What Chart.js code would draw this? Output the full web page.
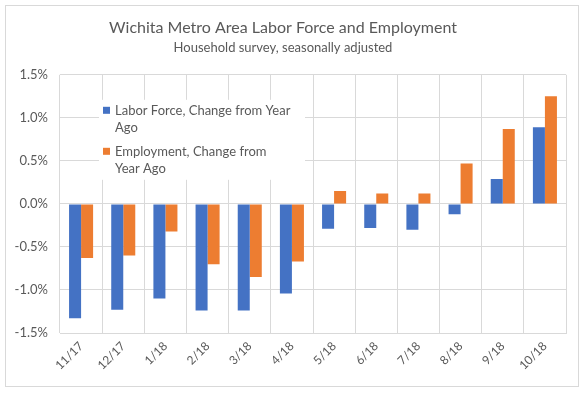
<!DOCTYPE html>
<html>
<head>
<meta charset="utf-8">
<script src="https://cdn.jsdelivr.net/npm/chart.js@4"></script>
<style>
  html, body { margin: 0; padding: 0; background: #fff; }
  #wrap { position: relative; width: 586px; height: 394px; }
  #frame { position: absolute; left: 5px; top: 5px; width: 574px; height: 382px; border: 1px solid #d9d9d9; box-sizing: border-box; }
  canvas { position: absolute; left: 0; top: 0; }
</style>
</head>
<body>
<div id="wrap">
  <div id="frame"></div>
  <canvas id="grafiek" width="586" height="394"></canvas>
</div>
<script>
// data
const months = ['11/17', '12/17', '1/18', '2/18', '3/18', '4/18', '5/18', '6/18', '7/18', '8/18', '9/18', '10/18'];
const laborForce = [-1.33, -1.23, -1.10, -1.24, -1.24, -1.04, -0.29, -0.28, -0.30, -0.12, 0.29, 0.89];
const employment = [-0.63, -0.60, -0.32, -0.70, -0.85, -0.67, 0.15, 0.12, 0.12, 0.47, 0.87, 1.25];
const yTicks = [-1.5, -1.0, -0.5, 0.0, 0.5, 1.0, 1.5];
// legend text broken the same way as the original
const legendLines = [
  ['Labor Force, Change from Year', 'Ago'],
  ['Employment, Change from', 'Year Ago']
];

const grijs = '#595959';
const lijn = '#d9d9d9';
const font = 'Lato';

// legend drawn inside the plot area, like the Excel original
const legendInPlot = {
  id: 'legendInPlot',
  afterDatasetsDraw(chart) {
    const ctx = chart.ctx;
    const area = chart.chartArea;
    const x0 = area.left + 43;
    const y0 = area.top + 25;
    ctx.save();
    ctx.fillStyle = '#fff';
    ctx.fillRect(x0 - 4, y0, 206, 80);
    ctx.font = '13px ' + font;
    ctx.textBaseline = 'middle';
    let y = y0 + 11;
    chart.data.datasets.forEach(function (ds, d) {
      const lines = legendLines[d];
      ctx.fillStyle = ds.backgroundColor;
      ctx.fillRect(x0, y - 4, 7, 7);
      ctx.fillStyle = grijs;
      lines.forEach(function (l, i) {
        ctx.fillText(l, x0 + 12, y + i * 17);
      });
      y += lines.length * 17 + 7;
    });
    ctx.restore();
  }
};

const ctx = document.getElementById('grafiek').getContext('2d');
const chart = new Chart(ctx, {
  type: 'bar',
  data: {
    labels: months,
    datasets: [{
      label: 'Labor Force, Change from Year Ago',
      data: laborForce,
      backgroundColor: '#4472C4'
    }, {
      label: 'Employment, Change from Year Ago',
      data: employment,
      backgroundColor: '#ED7D31'
    }]
  },
  options: {
    responsive: false,
    animation: false,
    categoryPercentage: 0.57,
    barPercentage: 1.0,
    layout: { padding: { left: 0, right: 20, top: 0, bottom: 6 } },
    plugins: {
      legend: { display: false },
      tooltip: { enabled: false },
      title: {
        display: true,
        text: 'Wichita Metro Area Labor Force and Employment',
        color: grijs,
        font: { family: font, size: 16, weight: 'normal' },
        padding: { top: 18, bottom: 3 }
      },
      subtitle: {
        display: true,
        text: 'Household survey, seasonally adjusted',
        color: grijs,
        font: { family: font, size: 13, weight: 'normal' },
        padding: { top: 0, bottom: 19 }
      }
    },
    scales: {
      x: {
        grid: { color: lijn, offset: true, drawTicks: false },
        border: { color: lijn },
        ticks: {
          color: grijs,
          font: { family: font, size: 12 },
          minRotation: 45,
          maxRotation: 45,
          padding: 6
        },
        afterFit(scale) { scale.height = 55; }
      },
      y: {
        min: -1.5,
        max: 1.5,
        grid: { color: lijn, drawTicks: false },
        border: { display: false },
        afterBuildTicks(scale) { scale.ticks = yTicks.map(v => ({ value: v })); },
        ticks: {
          color: grijs,
          font: { family: font, size: 13 },
          padding: 12,
          callback: v => v.toFixed(1) + '%'
        },
        afterFit(scale) { scale.width = 60; }
      }
    }
  },
  plugins: [legendInPlot]
});
</script>
</body>
</html>
